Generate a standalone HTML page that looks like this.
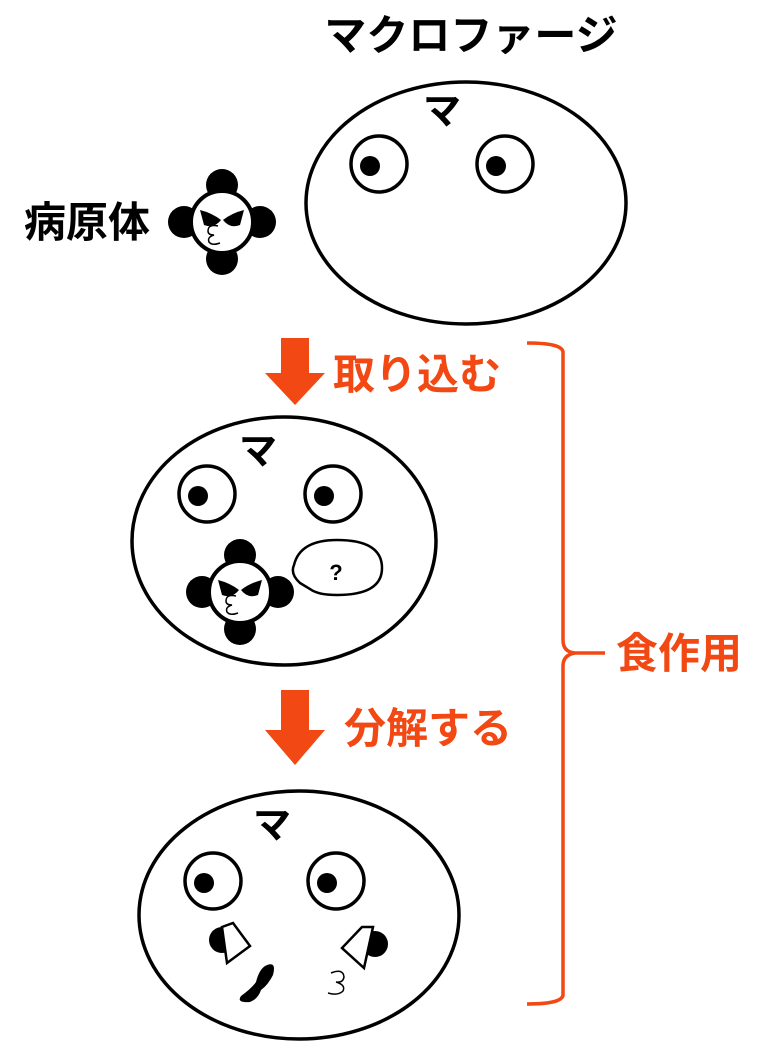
<!DOCTYPE html>
<html><head><meta charset="utf-8"><style>
html,body{margin:0;padding:0;background:#fff;}
svg{display:block}
text{font-family:"Liberation Sans","Noto Sans CJK JP",sans-serif;font-weight:bold}
</style></head><body>
<svg width="768" height="1041" viewBox="0 0 768 1041">
<defs>
<g id="path">
 <circle cx="0" cy="-37" r="16" fill="#000"/><circle cx="0" cy="37" r="16" fill="#000"/>
 <circle cx="-38" cy="0" r="16" fill="#000"/><circle cx="38" cy="0" r="16" fill="#000"/>
 <circle cx="0" cy="0" r="31" fill="#fff" stroke="#000" stroke-width="4"/>
 <path d="M-22,-12 Q-10,-9 -1,-2 Q-8,7 -18,3 Z" fill="#000"/>
 <path d="M22,-12 Q10,-9 1,-2 Q8,7 18,3 Z" fill="#000"/>
 <path d="M-4,4 Q-14,2 -14,9 Q-14,13 -8,13 Q-15,15 -13,20 Q-10,24 -2,21" fill="none" stroke="#000" stroke-width="1.5"/>
</g>
<g id="eye"><circle r="28" fill="#fff" stroke="#000" stroke-width="3.5"/><circle cx="-9" cy="2" r="10" fill="#000"/></g>
</defs>
<text x="471" y="50" font-size="42" text-anchor="middle">マクロファージ</text>
<ellipse cx="466" cy="203" rx="160" ry="121" fill="#fff" stroke="#000" stroke-width="3.5"/>
<text x="442" y="124" font-size="38" text-anchor="middle">マ</text>
<use href="#eye" x="379" y="164"/><use href="#eye" x="505" y="164"/>
<use href="#path" x="222" y="222"/>
<text x="24" y="237" font-size="42">病原体</text>

<polygon points="281,338 309,338 309,373 325,373 295,405 265,373 281,373" fill="#f24813"/>
<text x="333" y="389" font-size="42" fill="#f24813">取り込む</text>

<ellipse cx="284" cy="541" rx="152" ry="124" fill="#fff" stroke="#000" stroke-width="3.5"/>
<text x="258" y="464" font-size="38" text-anchor="middle">マ</text>
<use href="#eye" x="207" y="494"/><use href="#eye" x="333" y="494"/>
<use href="#path" x="240" y="592"/>
<path d="M300,583 Q290,574 294,565 Q300,540 337,540 Q382,540 382,568 Q382,595 337,595 Q318,595 310,589 Z" fill="#fff" stroke="#000" stroke-width="2.5"/>
<text x="336" y="580" font-size="22" text-anchor="middle">?</text>

<polygon points="281,690 309,690 309,730 325,730 295,765 265,730 281,730" fill="#f24813"/>
<text x="344" y="743" font-size="42" fill="#f24813">分解する</text>

<ellipse cx="299" cy="915" rx="160" ry="124" fill="#fff" stroke="#000" stroke-width="3.5"/>
<text x="272" y="838" font-size="38" text-anchor="middle">マ</text>
<use href="#eye" x="213" y="881"/><use href="#eye" x="336" y="881"/>
<circle cx="222" cy="940" r="13" fill="#000"/>
<polygon points="222,927 233,923 250,946 227,963" fill="#fff" stroke="#000" stroke-width="2.5"/>
<circle cx="375" cy="944" r="13" fill="#000"/>
<polygon points="373,927 362,927 342,948 364,968" fill="#fff" stroke="#000" stroke-width="2.5"/>
<path d="M265,966 Q277,960 273,975 Q268,985 261,990 Q258,999 250,1002 Q236,1003 241,996 Q252,988 256,982 Q259,970 265,966 Z" fill="#000"/>
<path d="M331,973 Q343,968 344,977 Q343,983 336,982 Q346,985 343,991 Q338,996 328,993" fill="none" stroke="#000" stroke-width="1.5"/>

<path d="M527,343 Q562,343 563,352 L563,640 Q563,652 575,653 L605,653 M575,653 Q563,655 563,666 L563,995 Q562,1004 527,1004" fill="none" stroke="#f24813" stroke-width="3.5"/>
<text x="616" y="668" font-size="42" fill="#f24813">食作用</text>
</svg>
</body></html>
